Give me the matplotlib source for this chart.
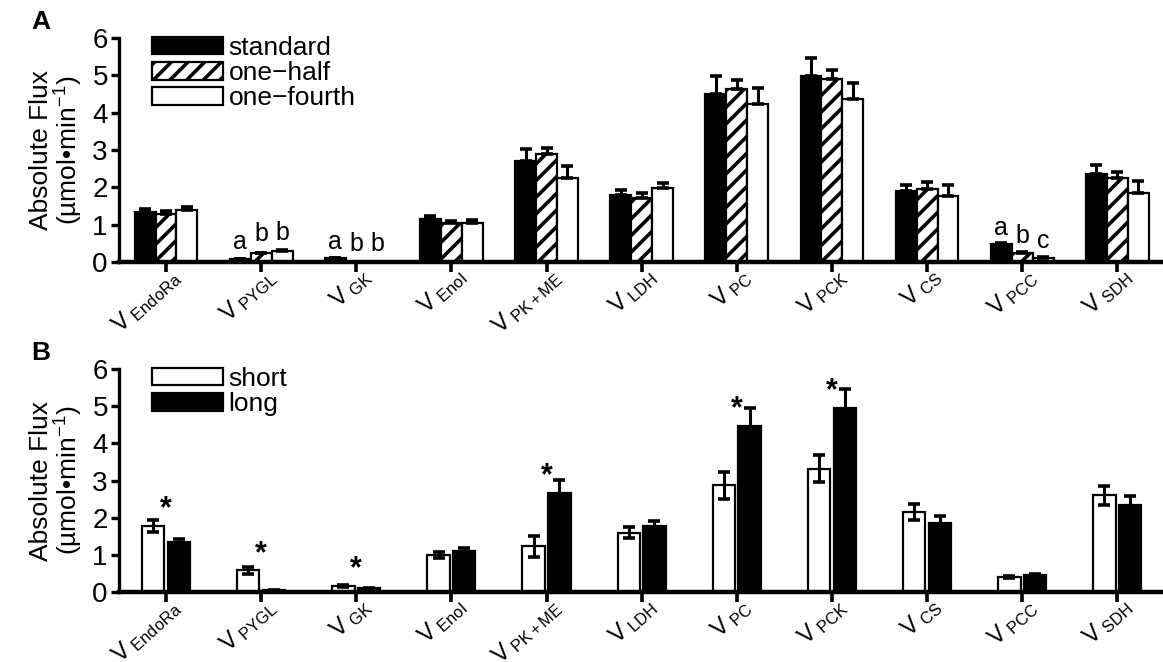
import numpy as np
import matplotlib
matplotlib.use("Agg")
import matplotlib.pyplot as plt
import matplotlib.transforms as mtransforms

plt.rcParams["font.family"] = ["Liberation Sans", "DejaVu Sans"]
plt.rcParams["mathtext.fontset"] = "custom"
plt.rcParams["mathtext.rm"] = "Liberation Sans"
plt.rcParams["mathtext.it"] = "Liberation Sans:italic"
plt.rcParams["hatch.linewidth"] = 2.6

# Categories (fluxes)
subs = ["EndoRa", "PYGL", "GK", "Enol", "PK+ME", "LDH", "PC", "PCK", "CS", "PCC", "SDH"]
labels = ["V$_{\\mathrm{\\ " + s + "}}$" for s in subs]

# Panel A: standard / one-half / one-fourth (mean, upper error)
standard = [1.33, 0.07, 0.10, 1.15, 2.70, 1.80, 4.49, 4.97, 1.89, 0.48, 2.36]
standard_err = [0.09, 0.02, 0.02, 0.09, 0.34, 0.14, 0.48, 0.50, 0.18, 0.04, 0.24]
half = [1.28, 0.23, 0.0, 1.04, 2.88, 1.72, 4.64, 4.89, 1.95, 0.25, 2.24]
half_err = [0.08, 0.02, 0.0, 0.05, 0.17, 0.13, 0.24, 0.25, 0.19, 0.03, 0.17]
fourth = [1.38, 0.29, 0.0, 1.05, 2.25, 1.99, 4.24, 4.36, 1.76, 0.11, 1.86]
fourth_err = [0.09, 0.03, 0.0, 0.07, 0.33, 0.13, 0.41, 0.43, 0.30, 0.02, 0.30]

# letters above groups in panel A (category index, letters, heights)
letter_cats = [1, 2, 9]
letter_txt = [["a", "b", "b"], ["a", "b", "b"], ["a", "b", "c"]]
letter_y = [[0.54, 0.76, 0.79], [0.54, 0.49, 0.49], [0.90, 0.70, 0.57]]

# Panel B: short / long (mean, error)
short = [1.78, 0.58, 0.17, 1.00, 1.23, 1.60, 2.87, 3.32, 2.16, 0.40, 2.60]
short_err = [0.16, 0.10, 0.03, 0.09, 0.28, 0.16, 0.36, 0.37, 0.22, 0.03, 0.25]
long_ = [1.34, 0.05, 0.10, 1.11, 2.67, 1.77, 4.47, 4.95, 1.85, 0.45, 2.34]
long_err = [0.09, 0.01, 0.02, 0.08, 0.34, 0.15, 0.48, 0.51, 0.20, 0.04, 0.24]

# significance stars in panel B (category index, height)
star_cats = [0, 1, 2, 4, 6, 7]
star_y = [2.48, 1.27, 0.87, 3.36, 5.18, 5.66]

x = np.arange(len(subs))

fig = plt.figure(figsize=(11.63, 6.62), dpi=100)
axA = fig.add_axes([0.1023, 0.6042, 0.8977, 0.3384])
axB = fig.add_axes([0.1023, 0.1057, 0.8977, 0.3369])

bar_kw = dict(edgecolor="black", linewidth=1.6, zorder=2)
err_kw = dict(fmt="none", ecolor="black", elinewidth=2.2, capsize=4.5, capthick=2.6, zorder=3)

# Panel A
w = 0.22
series_A = [(standard, standard_err, "black", None, "standard"),
            (half, half_err, "white", "//", "one\u2212half"),
            (fourth, fourth_err, "white", None, "one\u2212fourth")]
for i, (vals, errs, fc, hatch, lab) in enumerate(series_A):
    pos = x + (i - 1) * w
    axA.bar(pos, vals, w, color=fc, hatch=hatch, label=lab, **bar_kw)
    errs = np.array(errs)
    axA.errorbar(pos, vals, yerr=[np.zeros_like(errs), errs], **err_kw)

for c, txts, ys in zip(letter_cats, letter_txt, letter_y):
    for j, (t, yy) in enumerate(zip(txts, ys)):
        axA.text(c + (j - 1) * w, yy, t, ha="center", va="center", fontsize=18)

# Panel B
wb = 0.235
off = 0.135
axB.bar(x - off, short, wb, color="white", label="short", **bar_kw)
axB.bar(x + off, long_, wb, color="black", label="long", **bar_kw)
axB.errorbar(x - off, short, yerr=short_err, **err_kw)
axB.errorbar(x + off, long_, yerr=long_err, **err_kw)
for c, yy in zip(star_cats, star_y):
    axB.text(c, yy - 0.25, "*", ha="center", va="center", fontsize=22, fontweight="bold")

# rotated category labels, hanging just under each tick
shift = mtransforms.ScaledTranslation(3 / 100, -2 / 100, fig.dpi_scale_trans)

for ax, letter in [(axA, "A"), (axB, "B")]:
    ax.set_xlim(-0.494, 10.48)
    ax.set_ylim(0, 6)
    ax.spines["top"].set_visible(False)
    ax.spines["right"].set_visible(False)
    ax.spines["left"].set_linewidth(2.4)
    ax.spines["bottom"].set_linewidth(3.2)
    ax.spines["bottom"].set_zorder(4)
    ax.set_yticks(range(7))
    ax.tick_params(axis="y", direction="out", length=6, width=2.4, labelsize=20, pad=2)
    ax.tick_params(axis="x", direction="out", length=7, width=2.6)
    ax.set_xticks(x)
    ax.set_xticklabels([])
    for xi, lab in zip(x, labels):
        ax.text(xi, 0, lab, transform=ax.get_xaxis_transform() + shift, fontsize=17,
                rotation=42, ha="right", va="top", rotation_mode="anchor", clip_on=False)
    ax.set_ylabel("Absolute Flux\n(\u00b5mol\u2022min$^{\\mathrm{-1}}$)", fontsize=19, labelpad=5,
                  linespacing=1.0)
    leg = ax.legend(loc="upper left", bbox_to_anchor=(0.0316, 1.01), frameon=False,
                    fontsize=19, handlelength=2.7, handleheight=0.65, handletextpad=0.2,
                    labelspacing=0.05, borderpad=0, borderaxespad=0)
    ax.text(-0.084, 1.07, letter, transform=ax.transAxes, fontsize=19, fontweight="bold",
            ha="left", va="center")

plt.savefig("out.png", dpi=100)
